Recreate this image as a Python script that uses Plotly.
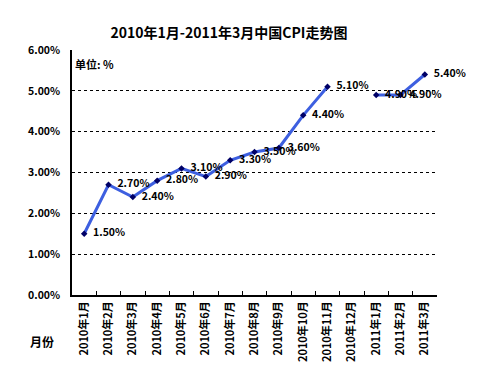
import plotly.graph_objects as go

months = ["2010年1月", "2010年2月", "2010年3月", "2010年4月", "2010年5月", "2010年6月",
          "2010年7月", "2010年8月", "2010年9月", "2010年10月", "2010年11月", "2010年12月",
          "2011年1月", "2011年2月", "2011年3月"]
cpi = [1.5, 2.7, 2.4, 2.8, 3.1, 2.9, 3.3, 3.5, 3.6, 4.4, 5.1, None, 4.9, 4.9, 5.4]
ytick_vals = [0, 1, 2, 3, 4, 5, 6]
ytick_text = ["0.00%", "1.00%", "2.00%", "3.00%", "4.00%", "5.00%", "6.00%"]

labels = ["" if v is None else f"  {v:.2f}%" for v in cpi]

FONT = "Noto Sans CJK SC, Noto Sans, sans-serif"

fig = go.Figure()
fig.add_trace(go.Scatter(
    x=months, y=cpi, mode="lines+markers+text",
    line=dict(color="#3D5FE0", width=3),
    marker=dict(symbol="diamond", size=5, color="#000066"),
    text=labels, textposition="middle right",
    textfont=dict(family=FONT, size=10.5, color="#000000", weight="bold"),
    connectgaps=False, cliponaxis=False, showlegend=False,
))

fig.update_layout(
    width=482, height=376,
    margin=dict(l=72, r=45, t=50, b=81),
    paper_bgcolor="white", plot_bgcolor="white",
    font=dict(family=FONT, color="#000000", size=11),
    title=dict(text="2010年1月-2011年3月中国CPI走势图", x=0.475, xanchor="center",
               y=0.912, yanchor="middle",
               font=dict(family=FONT, size=14, color="#000000", weight="bold")),
    xaxis=dict(type="category", categoryorder="array", categoryarray=months,
               showline=True, linecolor="#000000", linewidth=1.5,
               showgrid=False, ticks="inside", ticklen=4, tickcolor="#000000",
               tickson="boundaries", tickangle=-90, automargin=False,
               tickfont=dict(family=FONT, size=11, weight="bold"),
               range=[-0.5, 14.5], zeroline=False),
    yaxis=dict(range=[0, 6], tickvals=ytick_vals, ticktext=ytick_text,
               showline=True, linecolor="#000000", linewidth=1.5,
               showgrid=True, gridcolor="#000000", gridwidth=1, griddash="3px,3px",
               zeroline=False, ticks="", automargin=False, ticklabelstandoff=8,
               tickfont=dict(family=FONT, size=10.5, weight="bold")),
    annotations=[
        dict(text="单位: %", xref="paper", yref="paper", x=0.003, y=0.985,
             xanchor="left", yanchor="top", showarrow=False,
             font=dict(family=FONT, size=11, weight="bold")),
        dict(text="月份", xref="paper", yref="paper", x=-0.045, y=-0.19,
             xanchor="right", yanchor="middle", showarrow=False,
             font=dict(family=FONT, size=12, weight="bold")),
    ],
)

fig.write_html("out.html", config={"displayModeBar": False},
               post_script="document.body.style.margin='0';")
